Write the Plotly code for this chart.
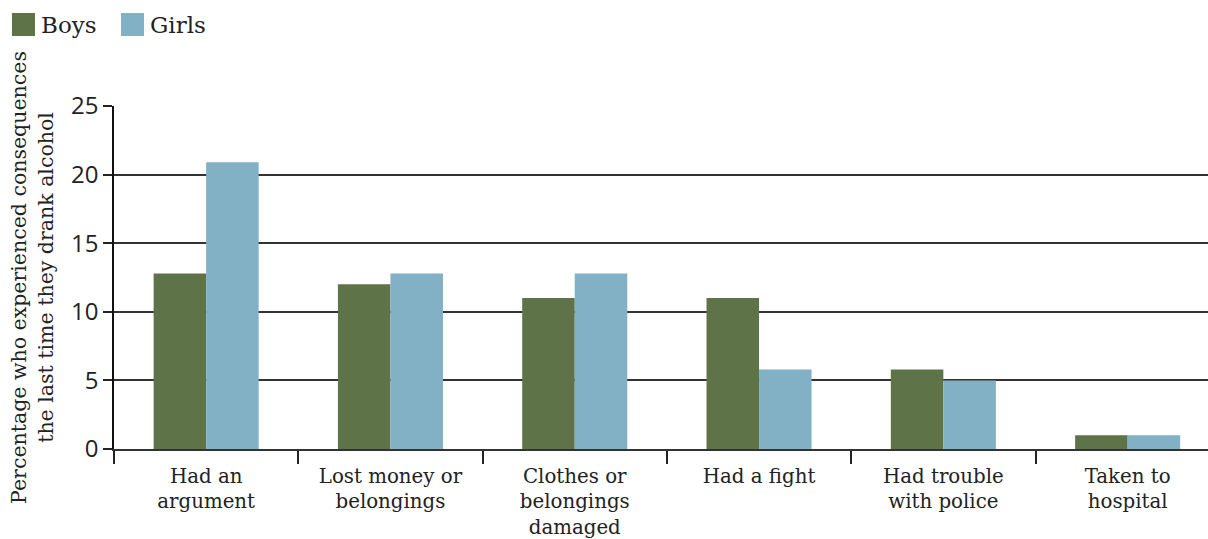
import plotly.graph_objects as go

categories = ["Had an<br>argument", "Lost money or<br>belongings", "Clothes or<br>belongings<br>damaged",
              "Had a fight", "Had trouble<br>with police", "Taken to<br>hospital"]
boys = [12.8, 12.0, 11.0, 11.0, 5.8, 1.0]
girls = [20.9, 12.8, 12.8, 5.8, 5.0, 1.0]
series_names = ["Boys", "Girls"]
colors = ["#5f7349", "#82b0c4"]
y_ticks = [0, 5, 10, 15, 20, 25]

W, H = 1208, 539
L, R, T, B = 114, 0, 106, 90
pw, ph = W - L - R, H - T - B

def px(x):
    return (x - L) / pw

def py(y):
    return (H - B - y) / ph

serif = "DejaVu Serif"
sans = "Open Sans"

fig = go.Figure()
for name, vals, c in zip(series_names, [boys, girls], colors):
    fig.add_trace(go.Bar(x=categories, y=vals, name=name, marker=dict(color=c, line=dict(width=0)),
                         showlegend=False))

fig.update_layout(
    width=W, height=H,
    margin=dict(l=L, r=R, t=T, b=B, autoexpand=False),
    paper_bgcolor="white", plot_bgcolor="white",
    barmode="group", bargap=0.43, bargroupgap=0,
    xaxis=dict(range=[-0.5, 5.436], tickson="boundaries", ticks="outside", ticklen=13,
               tickcolor="#222", tickwidth=1.5, showline=True, linecolor="#333", linewidth=1.5,
               showgrid=False, automargin=False, ticklabelstandoff=8,
               tickfont=dict(family=serif, size=19.8, color="#222")),
    yaxis=dict(range=[0, 25], tickvals=y_ticks, ticks="outside", ticklen=9, tickcolor="#222",
               tickwidth=1.5, showline=True, linecolor="#111", linewidth=1.5,
               showgrid=True, gridcolor="#333", gridwidth=1.5, zeroline=False, automargin=False,
               tickfont=dict(family=sans, size=24, color="#222"),
               title=dict(text="Percentage who experienced consequences<br>the last time they drank alcohol",
                          font=dict(family=serif, size=20.5, color="#222"), standoff=12)),
)

# legend drawn manually
lx = [12, 121]
for i, (name, c) in enumerate(zip(series_names, colors)):
    fig.add_shape(type="rect", xref="paper", yref="paper",
                  x0=px(lx[i]), x1=px(lx[i] + 23), y0=py(36), y1=py(13),
                  fillcolor=c, line=dict(width=0))
    fig.add_annotation(xref="paper", yref="paper", x=px(lx[i] + 27), y=py(25),
                       text=name, showarrow=False, xanchor="left", yanchor="middle",
                       font=dict(family=serif, size=23, color="#222"))

fig.write_html("out.html", config={"displayModeBar": False},
               post_script="document.body.style.margin='0';document.body.style.overflow='hidden';")
